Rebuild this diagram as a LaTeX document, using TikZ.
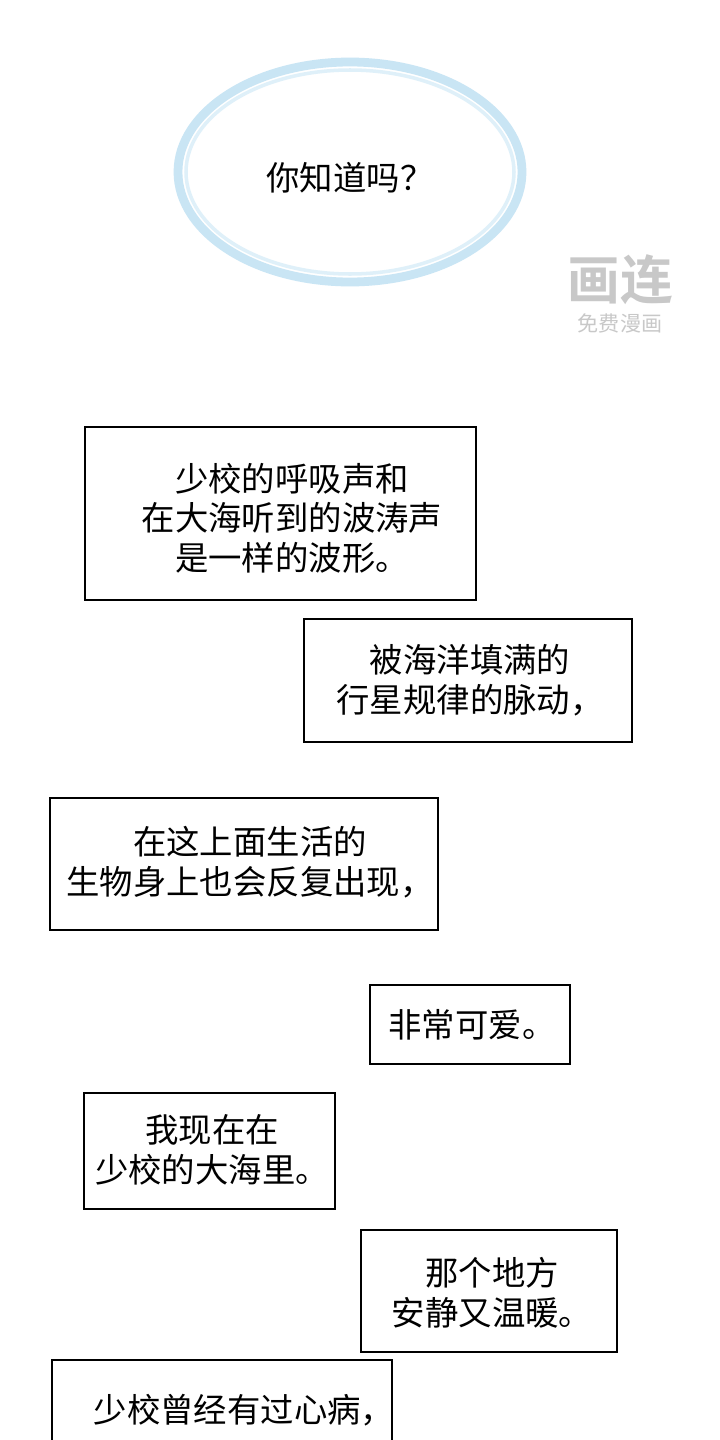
\documentclass[tikz,border=0pt]{standalone}
\usepackage{fontspec}
\setmainfont{Noto Sans CJK SC}[BoldFont={Noto Sans CJK SC Bold}]
\usetikzlibrary{positioning}
\definecolor{glow}{RGB}{165,212,238}
\definecolor{wmgray}{RGB}{200,200,200}

\begin{document}
\begin{tikzpicture}[x=0.02cm, y=-0.02cm]
        % Define styles
        \tikzset{
            caption/.style={draw, line width=1.2pt, rectangle, inner sep=0pt},
            words/.style={align=center, font=\fontsize{19pt}{22.5pt}\selectfont},
            bubble/.style={draw=glow, line width=5pt, opacity=0.6}
        }

        % Page
        \useasboundingbox (0,0) rectangle (720,1440);
        \fill[white] (0,0) rectangle (720,1440);

        % Thought bubble
        \draw[bubble] (350,172) ellipse (172 and 110);
        \draw[glow!35, line width=2pt] (350,172) ellipse (164 and 102);
        \node[words] (ask) at (350,178) {你知道吗？};

        % Watermark
        \node[text=wmgray, font=\bfseries\fontsize{30pt}{30pt}\selectfont] (logo) at (620,280) {画连};
        \node[text=wmgray, font=\fontsize{12pt}{12pt}\selectfont, below=-2pt of logo] (free) {免费漫画};

        % Caption boxes
        \draw[caption] (85,427) rectangle (476,600);
        \node[words] (t1) at (292,518) {少校的呼吸声和\\在大海听到的波涛声\\是一样的波形。};

        \draw[caption] (304,619) rectangle (632,742);
        \node[words] (t2) at (470,680) {被海洋填满的\\行星规律的脉动，};

        \draw[caption] (50,798) rectangle (438,930);
        \node[words] (t3) at (250,862) {在这上面生活的\\生物身上也会反复出现，};

        \draw[caption] (370,985) rectangle (570,1064);
        \node[words] (t4) at (472,1025) {非常可爱。};

        \draw[caption] (84,1093) rectangle (335,1209);
        \node[words] (t5) at (212,1150) {我现在在\\少校的大海里。};

        \draw[caption] (361,1230) rectangle (617,1352);
        \node[words] (t6) at (492,1293) {那个地方\\安静又温暖。};

        \draw[caption] (392,1450) -- (392,1360) -- (52,1360) -- (52,1450);
        \node[words] (t7) at (244,1410) {少校曾经有过心病，};
    \end{tikzpicture}
\end{document}
